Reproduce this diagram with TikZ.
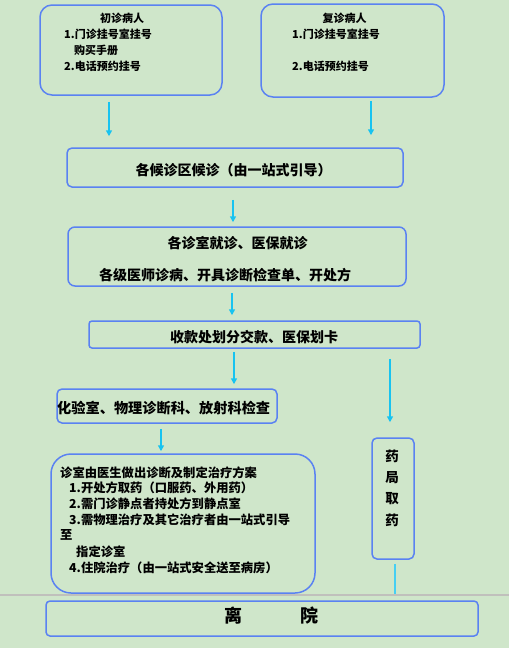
\documentclass[tikz,border=0pt]{standalone}
\usepackage{fontspec}
\setmainfont{Noto Sans CJK SC}
\usetikzlibrary{arrows.meta}
\definecolor{bgc}{HTML}{CFE6CA}
\definecolor{boxc}{HTML}{5A82F2}
\definecolor{arrc}{HTML}{18C3F0}
\definecolor{grayln}{HTML}{C0C0BC}
\tikzset{
  flowbox/.style={draw=boxc, line width=1.5pt, minimum width=#1, inner sep=0pt},
  arr/.style={draw=arrc, line width=1.5pt, -{Triangle[length=6pt,width=6pt]}},
  plainln/.style={draw=arrc!80!white, line width=1.5pt},
  txt/.style={inner sep=0pt, font=\fontsize{#1}{#1}\selectfont\bfseries},
  ltxt/.style={inner sep=0pt, anchor=west, font=\fontsize{#1}{#1}\selectfont\bfseries},
}
\begin{document}
\begin{tikzpicture}[x=1pt,y=-1pt]
\fill[bgc] (0,0) rectangle (509,648);
\useasboundingbox (0,0) rectangle (509,648);
% separator line
\coordinate (sepL) at (0,595);
\coordinate (sepR) at (509,595);
\draw[grayln, line width=1.5pt] (sepL) -- (sepR);

% boxes
\node[flowbox=182pt, minimum height=90pt, rounded corners=12pt] (b1) at (131,50) {};
\node[flowbox=183pt, minimum height=93pt, rounded corners=12pt] (b2) at (352.5,50.5) {};
\node[flowbox=336pt, minimum height=39pt, rounded corners=5pt] (b3) at (235,167.5) {};
\node[flowbox=338pt, minimum height=59pt, rounded corners=7pt] (b4) at (237,256.5) {};
\node[flowbox=331pt, minimum height=27pt, rounded corners=3pt] (b5) at (254.5,334.5) {};
\node[flowbox=220pt, minimum height=34pt, rounded corners=5pt] (b6) at (167,406) {};
\node[flowbox=264pt, minimum height=139pt, rounded corners=20pt] (b7) at (183,523.5) {};
\node[flowbox=42pt, minimum height=121pt, rounded corners=5pt] (b8) at (393,498.5) {};
\node[flowbox=432pt, minimum height=35pt, rounded corners=4pt] (b9) at (262,618.5) {};

% texts box 1
\node[txt=11] (t1a) at (122,18) {初诊病人};
\node[ltxt=11] (t1b) at (64,34) {1.门诊挂号室挂号};
\node[ltxt=11] (t1c) at (74,50) {购买手册};
\node[ltxt=11] (t1d) at (64,66) {2.电话预约挂号};
% box 2
\node[txt=11] (t2a) at (344.5,18) {复诊病人};
\node[ltxt=11] (t2b) at (292,34) {1.门诊挂号室挂号};
\node[ltxt=11] (t2c) at (292,66) {2.电话预约挂号};
% box 3
\node[txt=14] (t3) at (233.5,170.5) {各候诊区候诊（由一站式引导）};
% box 4
\node[txt=14] (t4a) at (237.5,243) {各诊室就诊、医保就诊};
\node[txt=14] (t4b) at (225,275) {各级医师诊病、开具诊断检查单、开处方};
% box 5
\node[txt=14] (t5) at (254,337) {收款处划分交款、医保划卡};
% box 6
\node[ltxt=14.2] (t6) at (57,408) {化验室、物理诊断科、放射科检查};
% box 7
\node[ltxt=12.3] (t7a) at (60,472.3) {诊室由医生做出诊断及制定治疗方案};
\node[ltxt=12.3] (t7b) at (69,488) {1.开处方取药（口服药、外用药）};
\node[ltxt=12.3] (t7c) at (69,503.7) {2.需门诊静点者持处方到静点室};
\node[ltxt=12.3] (t7d) at (69,519.7) {3.需物理治疗及其它治疗者由一站式引导};
\node[ltxt=12.3] (t7e) at (60,535) {至};
\node[ltxt=12.3] (t7f) at (76,551.7) {指定诊室};
\node[ltxt=12.3] (t7g) at (69,567.7) {4.住院治疗（由一站式安全送至病房）};
% box 8
\node[txt=13.5] (t8a) at (392,456.7) {药};
\node[txt=13.5] (t8b) at (392,477.3) {局};
\node[txt=13.5] (t8c) at (392,498.7) {取};
\node[txt=13.5] (t8d) at (392,520.3) {药};
% box 9
\node[txt=18] (t9a) at (233,616) {离};
\node[txt=18] (t9b) at (309.3,616) {院};

% arrow x positions
\coordinate (x1) at (109,0);
\coordinate (x2) at (371,0);
\coordinate (x3) at (233,0);
\coordinate (x4) at (232,0);
\coordinate (x5) at (234,0);
\coordinate (x6) at (390,0);
\coordinate (x7) at (161,0);
\coordinate (x8) at (395,0);

\draw[arr, shorten <=6pt, shorten >=11pt] (b1.south -| x1) -- (b3.north -| x1);
\draw[arr, shorten <=3pt, shorten >=12pt] (b2.south -| x2) -- (b3.north -| x2);
\draw[arr, shorten <=12pt, shorten >=4pt] (b3.south -| x3) -- (b4.north -| x3);
\draw[arr, shorten <=6pt, shorten >=5pt] (b4.south -| x4) -- (b5.north -| x4);
\draw[arr, shorten <=3pt, shorten >=4pt] (b5.south -| x5) -- (b6.north -| x5);
\draw[arr, shorten <=10pt, shorten >=15pt] (b5.south -| x6) -- (b8.north -| x6);
\draw[arr, shorten <=5pt, shorten >=2pt] (b6.south -| x7) -- (b7.north -| x7);
\draw[plainln, shorten <=4pt, shorten >=6pt] (b8.south -| x8) -- (b9.north -| x8);
\end{tikzpicture}
\end{document}
